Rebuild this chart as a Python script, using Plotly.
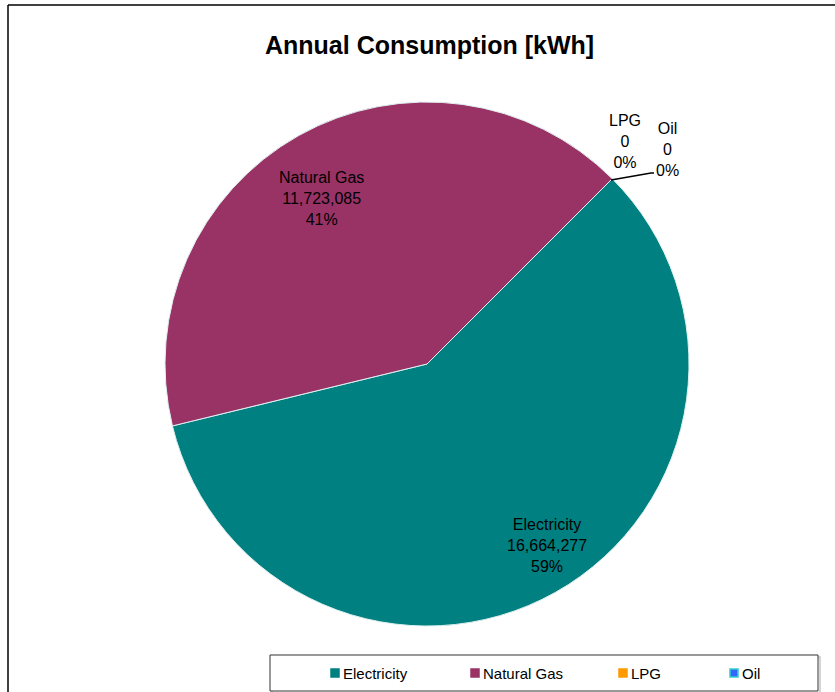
import plotly.graph_objects as go

# Annual energy consumption by fuel type [kWh]
fuels = ["Electricity", "Natural Gas", "LPG", "Oil"]
consumption_kwh = [16664277, 11723085, 0, 0]
fuel_colors = ["#008080", "#993366", "#FF9900", "#3366FF"]
legend_edge_colors = ["#008080", "#993366", "#FF9900", "#33CCCC"]

W, H = 835, 692
FONT = "Liberation Sans, Arial, sans-serif"


def px(x):
    return x / W


def py(y):
    return 1 - y / H


# pie geometry (pixels)
cx, cy, r = 427, 364, 262

total = sum(consumption_kwh)
shares = [v / total * 100 for v in consumption_kwh]


def label_text(i):
    return f"{fuels[i]}<br>{consumption_kwh[i]:,}<br>{shares[i]:.0f}%"


fig = go.Figure(
    go.Pie(
        labels=fuels,
        values=consumption_kwh,
        sort=False,
        direction="clockwise",
        rotation=45,
        marker=dict(colors=fuel_colors, line=dict(color="#E0F0F0", width=1)),
        textinfo="none",
        hovertemplate="%{label}<br>%{value:,}<br>%{percent}<extra></extra>",
        showlegend=False,
        domain=dict(x=[px(cx - r), px(cx + r)], y=[py(cy + r), py(cy - r)]),
    )
)

# data labels: (index, x, y) in pixels
label_pos = [(0, 547, 545), (1, 321, 198), (2, 625, 141), (3, 667, 149)]
annotations = []
for i, x, y in label_pos:
    annotations.append(
        dict(
            text=label_text(i),
            x=px(x), y=py(y), xref="paper", yref="paper",
            xanchor="center", yanchor="middle",
            showarrow=False, align="center",
            font=dict(family=FONT, size=16, color="#000000"),
        )
    )

shapes = [
    # chart frame
    dict(type="line", xref="paper", yref="paper",
         x0=px(8), y0=py(5), x1=px(W + 5), y1=py(5),
         line=dict(color="#000000", width=1.5)),
    dict(type="line", xref="paper", yref="paper",
         x0=px(8), y0=py(5), x1=px(8), y1=py(H + 5),
         line=dict(color="#000000", width=1.5)),
    # leader line to the zero-valued slices
    dict(type="path", xref="paper", yref="paper",
         path=f"M {px(611)},{py(180)} L {px(651)},{py(173)} L {px(654)},{py(173)}",
         line=dict(color="#000000", width=1.5)),
    # legend box with soft shadow
    dict(type="rect", xref="paper", yref="paper",
         x0=px(272), y0=py(693), x1=px(820), y1=py(657),
         line=dict(color="#C8C8C8", width=1.5), fillcolor="rgba(0,0,0,0)"),
    dict(type="rect", xref="paper", yref="paper",
         x0=px(270), y0=py(691), x1=px(818), y1=py(655),
         line=dict(color="#333333", width=1), fillcolor="#FFFFFF"),
]

# legend entries: marker x in pixels
legend_x = [335, 475, 623, 734]
ly = 673
for i, lx in enumerate(legend_x):
    shapes.append(
        dict(type="rect", xref="paper", yref="paper",
             x0=px(lx - 4), y0=py(ly + 4), x1=px(lx + 4), y1=py(ly - 4),
             line=dict(color=legend_edge_colors[i], width=1.5),
             fillcolor=fuel_colors[i])
    )
    annotations.append(
        dict(text=fuels[i], x=px(lx + 6), y=py(ly), xref="paper", yref="paper",
             xanchor="left", yanchor="middle", showarrow=False,
             font=dict(family=FONT, size=15, color="#000000"))
    )

# title
annotations.append(
    dict(text="<b>Annual Consumption [kWh]</b>", x=px(430), y=py(45),
         xref="paper", yref="paper", xanchor="center", yanchor="middle",
         showarrow=False, font=dict(family=FONT, size=25, color="#000000"))
)

fig.update_layout(
    width=W, height=H,
    margin=dict(l=0, r=0, t=0, b=0),
    paper_bgcolor="#FFFFFF",
    plot_bgcolor="#FFFFFF",
    annotations=annotations,
    shapes=shapes,
)

fig.write_html("out.html")
